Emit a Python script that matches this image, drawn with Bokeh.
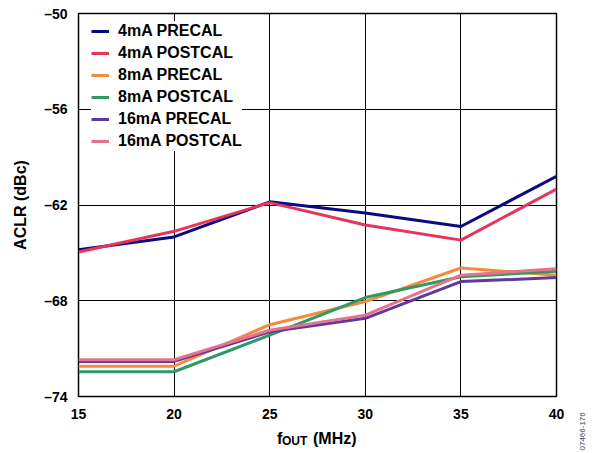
import math
from bokeh.plotting import figure
from bokeh.layouts import row, column
from bokeh.models import FixedTicker, Label, Range1d
from bokeh.embed import file_html
from bokeh.resources import INLINE

# ---- data ----
freq_mhz = [15, 20, 25, 30, 35, 40]
pre_4ma = [-64.8, -64.0, -61.8, -62.5, -63.35, -60.2]
post_4ma = [-64.95, -63.65, -61.85, -63.25, -64.2, -61.0]
pre_8ma = [-72.1, -72.1, -69.5, -68.05, -65.95, -66.4]
post_8ma = [-72.45, -72.45, -70.15, -67.8, -66.5, -66.15]
pre_16ma = [-71.8, -71.8, -69.95, -69.1, -66.8, -66.55]
post_16ma = [-71.7, -71.7, -69.85, -68.9, -66.4, -66.0]

series_names = ["4mA PRECAL", "4mA POSTCAL", "8mA PRECAL",
                "8mA POSTCAL", "16mA PRECAL", "16mA POSTCAL"]
series_values = [pre_4ma, post_4ma, pre_8ma, post_8ma, pre_16ma, post_16ma]
series_colors = ["#0a0a80", "#e6345a", "#f7893f", "#2e9963", "#5e3a9a", "#e6738b"]

x_ticks = [15, 20, 25, 30, 35, 40]
y_ticks = [-74, -68, -62, -56, -50]
y_tick_labels = ["\u201374", "\u201368", "\u201362", "\u201356", "\u201350"]

FONT = "Liberation Sans"

# ---- main chart ----
p = figure(width=570, height=426, x_range=(15, 40), y_range=(-74, -50),
           output_backend="svg", toolbar_location=None,
           min_border_left=78, min_border_right=14,
           min_border_top=13, min_border_bottom=30)

for name, vals, col in zip(series_names, series_values, series_colors):
    p.line(freq_mhz, vals, line_color=col, line_width=3, legend_label=name)

xa = p.below[0]
ya = p.left[0]
xa.ticker = FixedTicker(ticks=x_ticks)
ya.ticker = FixedTicker(ticks=y_ticks)
ya.major_label_overrides = {t: s for t, s in zip(y_ticks, y_tick_labels)}
for ax in (xa, ya):
    ax.axis_line_color = None
    ax.major_tick_in = 9
    ax.major_tick_out = 0
    ax.major_tick_line_color = "black"
    ax.minor_tick_line_color = None
    ax.major_label_text_font = FONT
    ax.major_label_text_font_style = "bold"
    ax.major_label_text_font_size = "14px"
    ax.major_label_text_color = "black"
xa.major_label_standoff = 12
ya.major_label_standoff = 11
ya.axis_label = "ACLR (dBc)"
ya.axis_label_text_font = FONT
ya.axis_label_text_font_style = "bold"
ya.axis_label_text_font_size = "16px"
ya.axis_label_text_color = "black"
ya.axis_label_standoff = 12

p.xgrid.ticker = FixedTicker(ticks=x_ticks)
p.ygrid.ticker = FixedTicker(ticks=y_ticks)
p.xgrid.grid_line_color = "black"
p.ygrid.grid_line_color = "black"
p.xgrid.grid_line_width = 1
p.ygrid.grid_line_width = 1
p.outline_line_color = "black"
p.outline_line_width = 1.5
p.background_fill_color = "white"
p.border_fill_color = "white"

lg = p.legend[0]
lg.location = (13, 245)
lg.border_line_color = None
lg.background_fill_color = "white"
lg.background_fill_alpha = 1.0
lg.padding = 6
lg.spacing = 2
lg.margin = 0
lg.glyph_width = 18
lg.glyph_height = 20
lg.label_height = 20
lg.label_standoff = 9
lg.label_text_font = FONT
lg.label_text_font_style = "bold"
lg.label_text_font_size = "16px"
lg.label_text_color = "black"


def text_strip(width, height):
    f = figure(width=width, height=height, x_range=Range1d(0, 1), y_range=Range1d(0, 1),
               output_backend="svg", toolbar_location=None,
               x_axis_location=None, y_axis_location=None,
               min_border=0, min_border_left=0, min_border_right=0,
               min_border_top=0, min_border_bottom=0)
    f.outline_line_color = None
    f.xgrid.visible = False
    f.ygrid.visible = False
    f.background_fill_color = "white"
    f.border_fill_color = "white"
    return f


# ---- x-axis title strip: f_OUT (MHz) (its frame is aligned with the chart frame) ----
xt = text_strip(570, 27)
common = dict(x_units="screen", y_units="screen", text_font=FONT,
              text_font_style="bold", text_color="black", text_baseline="middle")
xt.add_layout(Label(x=198.5, y=15.5, text="f", text_font_size="16px", **common))
xt.add_layout(Label(x=203.5, y=12.2, text="OUT", text_font_size="12px", **common))
xt.add_layout(Label(x=234.5, y=15.5, text="(MHz)", text_font_size="16px", **common))

# ---- figure id strip on the right ----
idf = text_strip(26, 453)
idf.add_layout(Label(x=11.5, y=3, text="07466-176", angle=math.pi / 2,
                     x_units="screen", y_units="screen", text_font=FONT,
                     text_font_size="8px", text_color="#444444",
                     text_baseline="middle", text_align="left"))

layout = row(column(p, xt, spacing=0), idf, spacing=0)
open("out.html", "w").write(file_html(layout, INLINE))
